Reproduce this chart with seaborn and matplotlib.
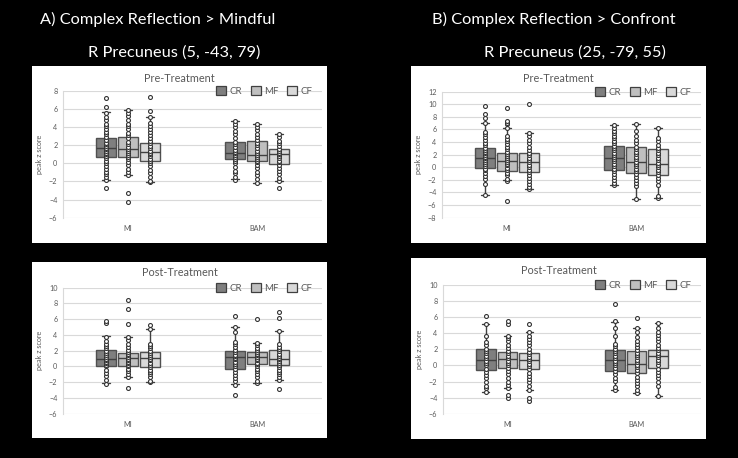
import numpy as np
import pandas as pd
import matplotlib
matplotlib.use("Agg")
import matplotlib.pyplot as plt
from matplotlib.patches import Rectangle, Patch
import seaborn as sns

groups = ["MI", "BAM"]
conds = ["CR", "MF", "CF"]
cond_colors = ["#7f7f7f", "#bfbfbf", "#d9d9d9"]

# box order in every list: MI-CR, MI-MF, MI-CF, BAM-CR, BAM-MF, BAM-CF

# A) Pre-Treatment
a_pre_q1 = [0.67, 0.67, 0.30, 0.48, 0.23, -0.10]
a_pre_med = [1.70, 1.59, 1.22, 1.10, 0.89, 1.00]
a_pre_q3 = [2.84, 2.88, 2.22, 2.32, 2.47, 1.59]
a_pre_lo = [-1.80, -1.29, -2.10, -1.77, -2.20, -1.91]
a_pre_hi = [5.64, 5.90, 5.10, 4.72, 4.32, 3.25]
a_pre_pts = [
    [-2.7, -1.8, -1.5, -1.2, -0.9, -0.6, -0.3, 0.0, 0.3, 0.6, 0.8, 1.0, 1.2, 1.4, 1.6, 1.7,
     1.9, 2.1, 2.3, 2.6, 2.9, 3.2, 3.5, 3.8, 4.1, 4.4, 4.8, 5.1, 5.6, 6.2, 7.2],
    [-4.3, -3.3, -1.3, -0.9, -0.6, -0.2, 0.2, 0.5, 0.7, 0.9, 1.2, 1.4, 1.6, 1.8, 2.1, 2.4,
     2.8, 3.1, 3.4, 3.8, 4.1, 4.4, 4.8, 5.2, 5.6, 5.9],
    [-2.1, -1.9, -1.5, -1.1, -0.7, -0.3, 0.0, 0.3, 0.5, 0.8, 1.0, 1.2, 1.4, 1.7, 1.9, 2.2,
     2.5, 2.8, 3.1, 3.5, 3.8, 4.1, 4.5, 5.1, 5.8, 7.3],
    [-1.8, -1.5, -1.1, -0.8, -0.4, 0.0, 0.3, 0.5, 0.7, 0.9, 1.1, 1.3, 1.5, 1.8, 2.1, 2.4,
     2.8, 3.2, 3.6, 4.0, 4.4, 4.7],
    [-2.2, -1.7, -1.3, -0.9, -0.5, -0.2, 0.1, 0.3, 0.5, 0.7, 0.9, 1.1, 1.4, 1.7, 2.0, 2.3,
     2.6, 2.9, 3.3, 3.7, 4.0, 4.3],
    [-2.7, -1.9, -1.6, -1.2, -0.8, -0.5, -0.2, 0.1, 0.3, 0.6, 0.8, 1.0, 1.2, 1.4, 1.6, 1.9,
     2.2, 2.5, 2.9, 3.25],
]

# A) Post-Treatment
a_post_q1 = [0.06, 0.10, -0.07, -0.28, 0.31, 0.18]
a_post_med = [0.89, 1.02, 1.06, 1.23, 1.23, 0.94]
a_post_q3 = [2.06, 1.77, 1.85, 1.98, 1.81, 2.06]
a_post_lo = [-2.16, -1.36, -2.03, -2.28, -2.07, -1.74]
a_post_hi = [3.82, 3.73, 4.70, 4.95, 2.98, 4.49]
a_post_pts = [
    [-2.2, -1.7, -1.2, -0.8, -0.4, 0.0, 0.2, 0.4, 0.6, 0.8, 1.0, 1.2, 1.4, 1.7, 2.0, 2.3,
     2.6, 2.9, 3.2, 3.8, 5.5, 5.8],
    [-2.7, -1.4, -1.0, -0.6, -0.3, 0.0, 0.2, 0.4, 0.6, 0.8, 1.0, 1.2, 1.4, 1.6, 1.8, 2.1,
     2.5, 2.9, 3.3, 3.7, 5.4, 7.3, 8.4],
    [-2.0, -1.8, -1.4, -1.0, -0.7, -0.4, -0.1, 0.2, 0.5, 0.8, 1.0, 1.2, 1.4, 1.7, 2.0, 2.3,
     2.6, 2.9, 4.7, 5.3],
    [-3.65, -2.3, -1.9, -1.5, -1.1, -0.7, -0.3, 0.0, 0.3, 0.6, 0.9, 1.1, 1.3, 1.5, 1.8, 2.1,
     2.5, 2.8, 3.1, 4.4, 4.95, 6.45],
    [-2.1, -1.8, -1.4, -1.0, -0.6, -0.3, 0.0, 0.3, 0.5, 0.8, 1.0, 1.2, 1.4, 1.6, 1.8, 2.1,
     2.4, 2.7, 3.0, 6.0],
    [-2.8, -1.7, -1.4, -1.0, -0.7, -0.4, -0.1, 0.2, 0.4, 0.7, 0.9, 1.1, 1.3, 1.6, 1.9, 2.2,
     2.5, 2.8, 4.5, 6.2, 6.9],
]

# B) Pre-Treatment
b_pre_q1 = [-0.17, -0.54, -0.75, -0.38, -0.86, -1.17]
b_pre_med = [1.47, 0.99, 0.84, 1.47, 0.78, 0.47]
b_pre_q3 = [3.00, 2.32, 2.32, 3.32, 3.22, 2.90]
b_pre_lo = [-4.40, -2.07, -3.46, -2.80, -5.10, -4.90]
b_pre_hi = [7.08, 6.28, 5.50, 6.70, 6.80, 6.27]
b_pre_pts = [
    [-4.4, -2.7, -1.9, -1.4, -0.9, -0.5, -0.2, 0.2, 0.5, 0.8, 1.1, 1.4, 1.6, 1.9, 2.2, 2.5,
     2.8, 3.1, 3.5, 3.9, 4.3, 4.8, 5.3, 5.6, 7.1, 7.9, 8.5, 9.8],
    [-5.4, -2.1, -1.8, -1.3, -0.9, -0.5, -0.1, 0.3, 0.6, 0.9, 1.2, 1.5, 1.8, 2.1, 2.5, 2.9,
     3.3, 3.7, 4.1, 4.5, 5.0, 6.3, 6.8, 7.0, 7.3, 9.35],
    [-3.5, -3.2, -2.7, -2.2, -1.7, -1.2, -0.8, -0.4, 0.0, 0.4, 0.8, 1.1, 1.5, 1.9, 2.3, 2.8,
     3.3, 3.9, 4.4, 5.0, 5.5, 10.0],
    [-2.8, -2.5, -2.0, -1.5, -1.0, -0.6, -0.2, 0.2, 0.6, 1.0, 1.3, 1.6, 1.9, 2.3, 2.7, 3.0,
     3.4, 3.8, 4.2, 4.6, 5.0, 5.4, 5.8, 6.2, 6.7],
    [-5.1, -3.0, -2.5, -2.0, -1.5, -1.0, -0.6, -0.2, 0.2, 0.6, 0.9, 1.3, 1.7, 2.1, 2.5, 2.9,
     3.3, 3.8, 4.3, 5.0, 5.8, 6.8],
    [-4.9, -4.6, -2.8, -2.2, -1.7, -1.2, -0.8, -0.4, 0.0, 0.4, 0.7, 1.1, 1.5, 1.9, 2.3, 2.7,
     3.1, 3.6, 4.1, 4.6, 6.3],
]

# B) Post-Treatment
b_post_q1 = [-0.58, -0.29, -0.42, -0.63, -0.92, -0.38]
b_post_med = [0.71, 0.83, 0.62, 0.71, 0.17, 1.13]
b_post_q3 = [2.00, 1.70, 1.58, 1.96, 1.83, 1.96]
b_post_lo = [-3.30, -2.80, -3.00, -3.00, -3.40, -3.83]
b_post_hi = [5.20, 3.67, 4.10, 5.46, 4.63, 5.33]
b_post_pts = [
    [-3.3, -2.8, -2.5, -2.1, -1.6, -1.2, -0.8, -0.4, 0.0, 0.3, 0.6, 0.9, 1.2, 1.5, 1.8, 2.1,
     2.5, 2.9, 3.6, 5.2, 6.1],
    [-4.0, -3.7, -2.8, -2.4, -2.0, -1.5, -1.1, -0.7, -0.3, 0.0, 0.3, 0.6, 0.9, 1.2, 1.5, 1.8,
     2.2, 2.6, 3.0, 3.4, 3.7, 5.2, 5.5],
    [-4.45, -4.0, -3.0, -2.5, -2.1, -1.7, -1.3, -0.9, -0.5, -0.1, 0.2, 0.5, 0.8, 1.1, 1.4, 1.7,
     2.1, 2.5, 2.9, 3.3, 3.7, 4.1, 5.1],
    [-3.0, -2.7, -1.9, -1.5, -1.1, -0.7, -0.3, 0.0, 0.3, 0.6, 0.9, 1.2, 1.5, 1.8, 2.1, 2.4,
     2.7, 3.6, 4.7, 5.5, 7.7],
    [-3.4, -3.0, -2.6, -2.2, -1.8, -1.4, -1.0, -0.6, -0.2, 0.1, 0.4, 0.7, 1.0, 1.3, 1.6, 1.9,
     2.3, 2.7, 3.1, 3.5, 4.1, 4.6, 5.9],
    [-3.83, -2.5, -2.0, -1.6, -1.2, -0.8, -0.4, 0.0, 0.4, 0.7, 1.0, 1.3, 1.6, 1.9, 2.2, 2.6,
     3.0, 3.4, 3.8, 4.2, 4.6, 5.3],
]

sns.set_theme(style="white")
plt.rcParams["font.family"] = ["Lato", "DejaVu Sans"]

fig = plt.figure(figsize=(7.38, 4.58), dpi=100, facecolor="black")

offset = 0.17
box_w = 0.155
grey_txt = "#595959"
line_c = "#404040"


def draw_panel(rect_px, ax_px, title, title_y, ylim, yticks, q1, med, q3, lo, hi, pts):
    W, H = 738, 458
    x0, y0, x1, y1 = rect_px
    fig.patches.append(Rectangle((x0 / W, 1 - y1 / H), (x1 - x0) / W, (y1 - y0) / H,
                                 transform=fig.transFigure, facecolor="white",
                                 edgecolor="none", zorder=-1))
    fig.text((x0 + x1) / 2 / W, 1 - title_y / H, title, ha="center", va="center",
             fontsize=7.8, color=grey_txt)
    l, t, r, b = ax_px
    ax = fig.add_axes([l / W, 1 - b / H, (r - l) / W, (b - t) / H])
    ax.set_facecolor("white")

    rows = []
    stats = []
    positions = []
    for gi, g in enumerate(groups):
        for ci, c in enumerate(conds):
            k = gi * 3 + ci
            pos = gi + (ci - 1) * offset
            positions.append(pos)
            stats.append(dict(med=med[k], q1=q1[k], q3=q3[k], whislo=lo[k], whishi=hi[k], fliers=[]))
            for v in pts[k]:
                rows.append((g, c, pos, v))
    df = pd.DataFrame(rows, columns=["group", "cond", "x", "value"])

    bp = ax.bxp(stats, positions=positions, widths=box_w, patch_artist=True, showfliers=False,
                boxprops=dict(edgecolor="#505050", linewidth=1.0),
                medianprops=dict(color=line_c, linewidth=1.0),
                whiskerprops=dict(color=line_c, linewidth=1.0),
                capprops=dict(color=line_c, linewidth=1.0),
                capwidths=0.06, manage_ticks=False, zorder=2)
    for i, patch in enumerate(bp["boxes"]):
        patch.set_facecolor(cond_colors[i % 3])

    sns.scatterplot(data=df, x="x", y="value", ax=ax, marker="o", s=8,
                    facecolor="white", edgecolor="#333333", linewidth=0.8,
                    zorder=3, legend=False)

    ax.set_xlim(-0.5, 1.5)
    ax.set_ylim(*ylim)
    ax.set_yticks(yticks)
    ax.set_xticks([0, 1])
    ax.set_xticklabels(groups)
    ax.set_xlabel("")
    ax.set_ylabel("peak z score", fontsize=5.2, color=grey_txt, labelpad=4)
    ax.tick_params(axis="both", labelsize=5.2, colors=grey_txt, length=0, pad=4)
    ax.tick_params(axis="x", pad=5)
    ax.grid(axis="y", color="#d9d9d9", linewidth=0.8)
    ax.set_axisbelow(True)
    for s in ["top", "right", "bottom"]:
        ax.spines[s].set_visible(False)
    ax.spines["left"].set_color("#d9d9d9")
    ax.spines["left"].set_linewidth(0.8)

    handles = [Patch(facecolor=cond_colors[i], edgecolor=line_c, linewidth=0.9) for i in range(3)]
    ax.legend(handles, conds, loc="center right", bbox_to_anchor=(0.985, 1.0), ncol=3,
              frameon=False, fontsize=7, handlelength=1.0, handleheight=1.0,
              columnspacing=0.9, handletextpad=0.35, labelcolor=grey_txt,
              borderaxespad=0.2)
    return ax


draw_panel((32, 66, 327, 243), (63, 91, 322, 217.7), "Pre-Treatment", 78,
           (-6, 8), np.arange(-6, 9, 2), a_pre_q1, a_pre_med, a_pre_q3, a_pre_lo, a_pre_hi, a_pre_pts)
draw_panel((32, 262, 327, 438), (63, 287.7, 322, 413.7), "Post-Treatment", 273,
           (-6, 10), np.arange(-6, 11, 2), a_post_q1, a_post_med, a_post_q3, a_post_lo, a_post_hi, a_post_pts)
draw_panel((411, 66, 706, 243), (442, 91.7, 701, 217.7), "Pre-Treatment", 78,
           (-8, 12), np.arange(-8, 13, 2), b_pre_q1, b_pre_med, b_pre_q3, b_pre_lo, b_pre_hi, b_pre_pts)
draw_panel((411, 258, 706, 439), (443, 285, 701, 413.7), "Post-Treatment", 271,
           (-6, 10), np.arange(-6, 11, 2), b_post_q1, b_post_med, b_post_q3, b_post_lo, b_post_hi, b_post_pts)

fig.text(40 / 738, 1 - 19 / 458, "A) Complex Reflection > Mindful", ha="left", va="center",
         fontsize=11.8, color="white")
fig.text(174.5 / 738, 1 - 53 / 458, "R Precuneus (5, -43, 79)", ha="center", va="center",
         fontsize=11.8, color="white")
fig.text(432 / 738, 1 - 19 / 458, "B) Complex Reflection > Confront", ha="left", va="center",
         fontsize=11.8, color="white")
fig.text(575 / 738, 1 - 53 / 458, "R Precuneus (25, -79, 55)", ha="center", va="center",
         fontsize=11.8, color="white")

fig.savefig("out.png", dpi=100, facecolor="black")
